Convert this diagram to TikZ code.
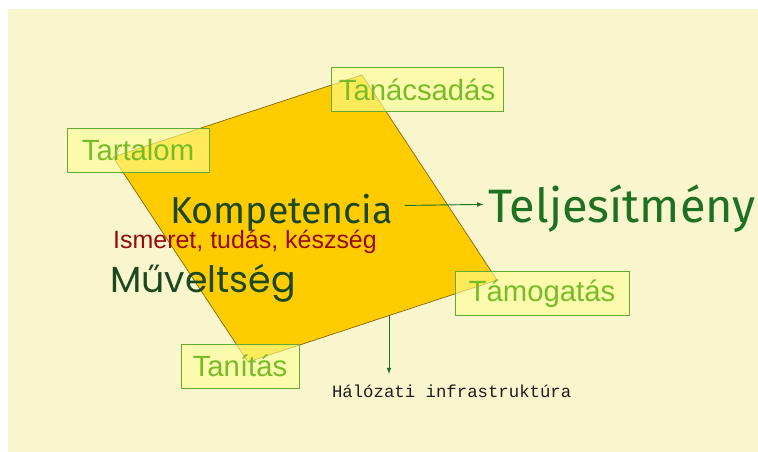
\documentclass[tikz,border=0pt]{standalone}
\usepackage{fontspec}
\newfontfamily\tagfont{Liberation Sans}
\newfontfamily\handfont{Fira Sans}
\newfontfamily\roundfont{Poppins}
\newfontfamily\codefont{Liberation Mono}
\definecolor{paper}{RGB}{249,245,205}
\definecolor{gold}{RGB}{255,204,0}
\definecolor{goldline}{RGB}{130,105,10}
\definecolor{tagfill}{RGB}{255,255,150}
\definecolor{tagline}{RGB}{100,170,50}
\definecolor{tagtext}{RGB}{118,188,40}
\definecolor{deepgreen}{RGB}{28,72,32}
\definecolor{midgreen}{RGB}{30,112,34}
\definecolor{wine}{RGB}{150,10,10}
\definecolor{ink}{RGB}{30,30,30}
\begin{document}
\begin{tikzpicture}[x=0.03cm,y=-0.03cm,
	tag/.style={draw=tagline,line width=0.8pt,fill=tagfill,fill opacity=0.6,text opacity=1,text=tagtext,font=\tagfont\fontsize{25pt}{28pt}\selectfont,minimum height=1.32cm,inner sep=0pt},
	word/.style={inner sep=0pt,anchor=base west},
	pointer/.style={-latex,draw=midgreen,line width=0.8pt}]
		\useasboundingbox (0,0) rectangle (758,452);
		\fill[paper] (8,9) rectangle (758,452);
		% the field
		\coordinate (w) at (113,157);
		\coordinate (n) at (362,75);
		\coordinate (e) at (497,280);
		\coordinate (s) at (248,362);
		\draw[goldline,line width=0.6pt,fill=gold] (w)--(n)--(e)--(s)--cycle;
		% corner tags
		\node[tag,minimum width=4.26cm] (tartalom) at (138,150) {Tartalom};
		\node[tag,minimum width=5.16cm] (tanacs) at (417,89.5) {Tanácsadás};
		\node[tag,minimum width=5.22cm] (tamog) at (542,293.5) {Támogatás};
		\node[tag,minimum width=3.54cm] (tanit) at (240,366) {Tanítás};
		% texts
		\node[word,text=deepgreen,font=\handfont\fontsize{32pt}{36pt}\selectfont] (komp) at (170,223) {Kompetencia};
		\node[word,text=midgreen,font=\handfont\fontsize{40pt}{44pt}\selectfont] (telj) at (488,222) {Teljesítmény};
		\node[word,text=wine,font=\tagfont\fontsize{21.3pt}{24pt}\selectfont] (ismeret) at (113,248) {Ismeret, tudás, készség};
		\node[word,text=deepgreen,font=\roundfont\fontsize{31pt}{34pt}\selectfont] (muvelt) at (110,292) {Műveltség};
		\node[word,outer xsep=0pt,outer ysep=9pt,text=ink,font=\codefont\fontsize{14.8pt}{17pt}\selectfont] (halo) at (332,397) {Hálózati infrastruktúra};
		\coordinate (drop) at (389,315);
		\draw[pointer] ([xshift=10pt,yshift=15pt]komp.base east) -- ([xshift=-4pt,yshift=15pt]telj.base west);
		\draw[pointer] (drop) -- (drop |- halo.north);
	\end{tikzpicture}
\end{document}
